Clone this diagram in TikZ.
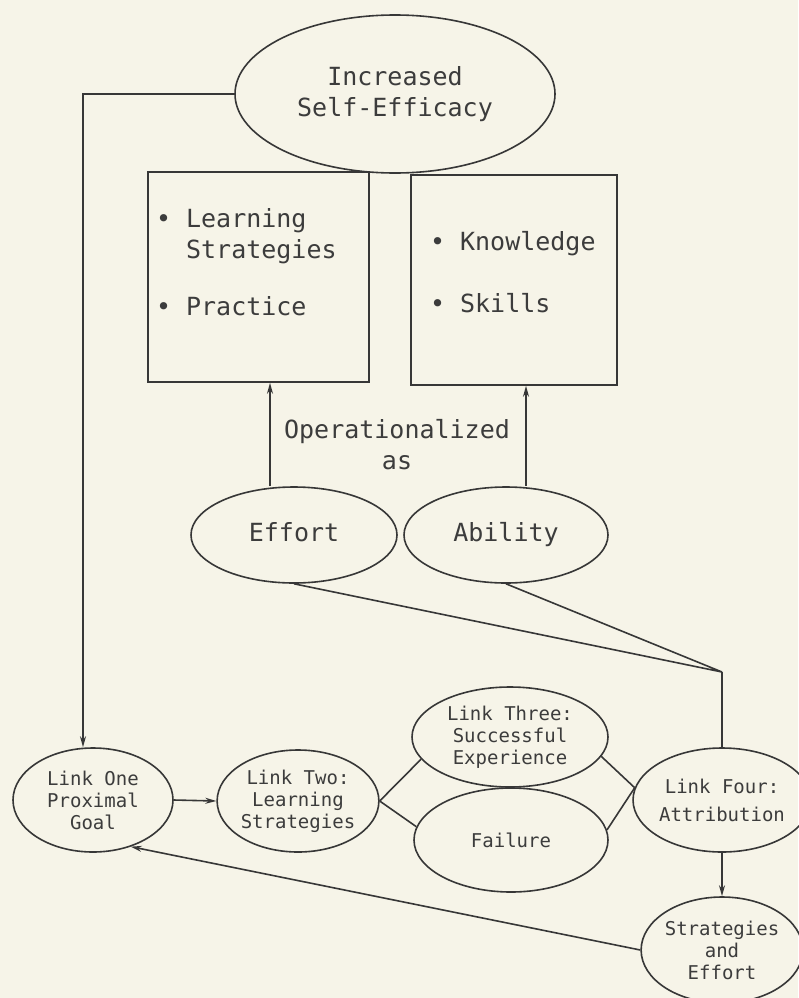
\documentclass[tikz,border=0pt]{standalone}
\usepackage{fontspec}
\setmonofont{DejaVu Sans Mono}
\usetikzlibrary{shapes.geometric,arrows.meta,positioning}
\definecolor{paper}{RGB}{246,244,232}
\definecolor{linegray}{RGB}{55,55,55}
\definecolor{inkgray}{RGB}{60,60,60}
\begin{document}
\begin{tikzpicture}[x=1pt,y=-1pt,line width=1.6pt,draw=linegray,node distance=212pt,
				>={Stealth[length=11pt,width=6pt]},
				big node/.style = {ellipse,draw,inner sep = 0pt,align=center,text=inkgray,font=\ttfamily\fontsize{25}{31}\selectfont},
				small node/.style = {ellipse,draw,inner sep = 0pt,align=center,text=inkgray,font=\ttfamily\fontsize{19}{22}\selectfont},
				box node/.style = {rectangle,draw,inner sep = 0pt,minimum height = 210pt},
				box text/.style = {align=left,inner sep = 0pt,text=inkgray,font=\ttfamily\fontsize{25}{31}\selectfont}]
				
				\fill[paper] (0,0) rectangle (798,998);
				\useasboundingbox (0,0) rectangle (798,998);
				
				\node[big node,minimum width = 320pt,minimum height = 158pt] (1) at (395,94) {Increased\\Self-Efficacy};
				\node[box node,minimum width = 221pt] (2) at (258.5,277) {};
				\node[box node,minimum width = 206pt] (3) at (514,280) {};
				\node[box text] [below right = 37pt and 8pt of 2.north west] (2a) {\textbullet\ Learning\\\hphantom{\textbullet\ }Strategies\\[26pt]\textbullet\ Practice};
				\node[box text] [below right = 56pt and 19pt of 3.north west] (3a) {\textbullet\ Knowledge\\[31pt]\textbullet\ Skills};
				\node[big node,minimum width = 206pt,minimum height = 96pt,text height = 19pt,text depth = 6pt] (4) at (294,535) {Effort};
				\node[big node,minimum width = 204pt,minimum height = 96pt,text height = 19pt,text depth = 6pt] [right of = 4] (5) {Ability};
				\node[box text,align=center] (12) at (397,445) {Operationalized\\as};
				
				\node[small node,minimum width = 160pt,minimum height = 104pt] (6) at (93,800) {Link One\\Proximal\\Goal};
				\node[small node,minimum width = 152pt,minimum height = 102pt] (7) at (298,801) {Link Two:\\Learning\\Strategies};
				\node[small node,minimum width = 196pt,minimum height = 100pt] (8) at (510,737) {Link Three:\\Successful\\Experience};
				\node[small node,minimum width = 194pt,minimum height = 104pt] (9) at (511,840) {Failure};
				\node[small node,minimum width = 152pt,minimum height = 104pt] (10) at (722,800) {Link Four:\\[6pt]Attribution};
				\node[small node,minimum width = 152pt,minimum height = 106pt] (11) at (722,950) {Strategies\\and\\Effort};
				
				\coordinate (c) at (83,94);
				\coordinate (j) at (722,672);
				\coordinate (e) at (270,0);
				\coordinate (a) at (526,0);
				
				\draw[->] (1.west) -- (c) -- (c |- 6.north);
				\draw[->] (e |- 4.north) -- (e |- 2.south);
				\draw[->] (a |- 5.north) -- (a |- 3.south);
				\draw (4.south) -- (j) -- (5.south);
				\draw (j) -- (10.north);
				\draw[->] (6.east) -- (7.west);
				\draw (7.east) -- (8.194);
				\draw (7.east) -- (9.172);
				\draw (8.348) -- (10.172);
				\draw (9.6) -- (10.172);
				\draw[->] (10.south) -- (11.north);
				\draw[->] (11.west) -- (6.309);
				
				\end{tikzpicture}
\end{document}
